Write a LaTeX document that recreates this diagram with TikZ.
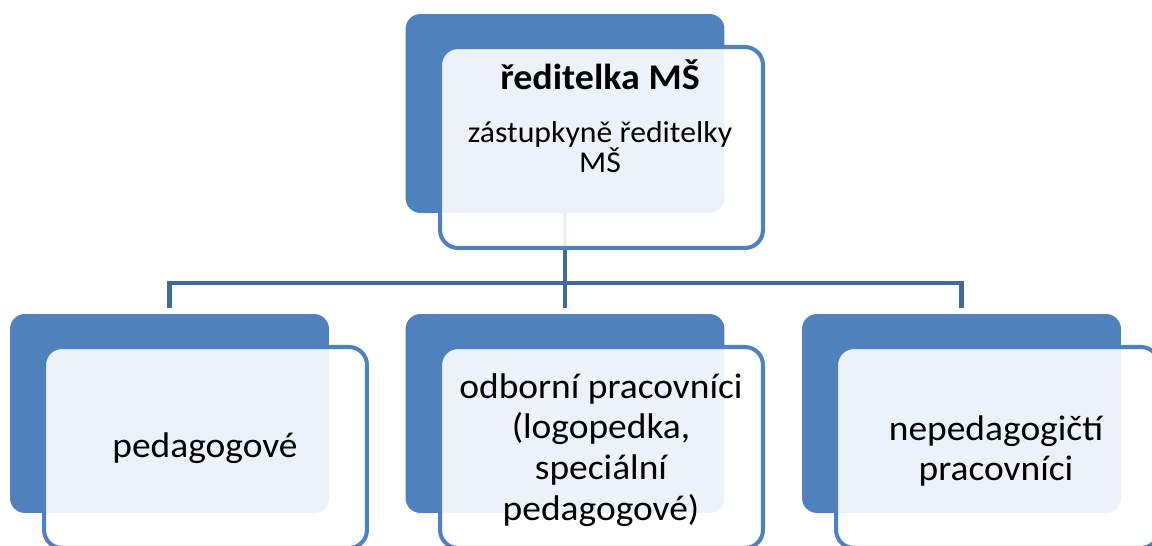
\documentclass[tikz,border=0pt]{standalone}
\usepackage{fontspec}
\setmainfont[FakeStretch=1.05]{Carlito}
\usetikzlibrary{positioning}
\definecolor{ofblue}{HTML}{4F81BD}
\definecolor{ofline}{HTML}{41699A}

\begin{document}
\begin{tikzpicture}[x=0.02cm,y=-0.02cm,
  zadni/.style={rectangle,fill=ofblue,rounded corners=0.3cm,minimum width=6.38cm,minimum height=3.98cm,inner sep=0pt},
  predni/.style={rectangle,draw=ofblue,line width=2.3pt,fill=white,fill opacity=0.9,rounded corners=0.36cm,minimum width=6.46cm,minimum height=4.02cm,inner sep=0pt},
  spoj/.style={draw=ofline,line width=2.8pt},
  velky/.style={font=\fontsize{20.3}{23.2}\selectfont,align=center,inner sep=0pt},
  maly/.style={font=\fontsize{17.2}{17.4}\selectfont,align=center,inner sep=0pt}]
\useasboundingbox (0,0) rectangle (1152,546);
\clip (0,0) rectangle (1152,546);

% zadni modre obdelniky
\node[zadni] (b0) at (565,113.5) {};
\node[zadni] (b1) at (169.5,413.5) {};
\node[zadni] (b2) at (565,413.5) {};
\node[zadni] (b3) at (961.5,413.5) {};

% spojnice
\coordinate (bus) at (565,283);
\draw[spoj] (b0.south) -- (bus);
\draw[spoj,shorten <=0.12cm,shorten >=0.12cm] (b1.north) |- (bus) -| (b3.north);
\draw[spoj,shorten >=0.12cm] (bus) -- (b2.north);

% predni svetle obdelniky
\node[predni] (w0) at (601.5,147.5) {};
\node[predni] (w1) at (205.5,447.5) {};
\node[predni] (w2) at (601.5,447.5) {};
\node[predni] (w3) at (997.5,447.5) {};

% texty
\node[velky,font=\fontsize{20.6}{23}\selectfont\bfseries,anchor=base] (t0) at (600,90) {ředitelka MŠ};
\node[maly] (t0b) at (600,147) {zástupkyně ředitelky\\MŠ};
\node[velky] (t1) at (205,448.5) {pedagogové};
\node[velky] (t2) at (601,450) {odborní pracovníci\\(logopedka,\\speciální\\pedagogové)};
\node[velky] (t3) at (996,451) {nepedagogičtí\\pracovníci};

\end{tikzpicture}
\end{document}
